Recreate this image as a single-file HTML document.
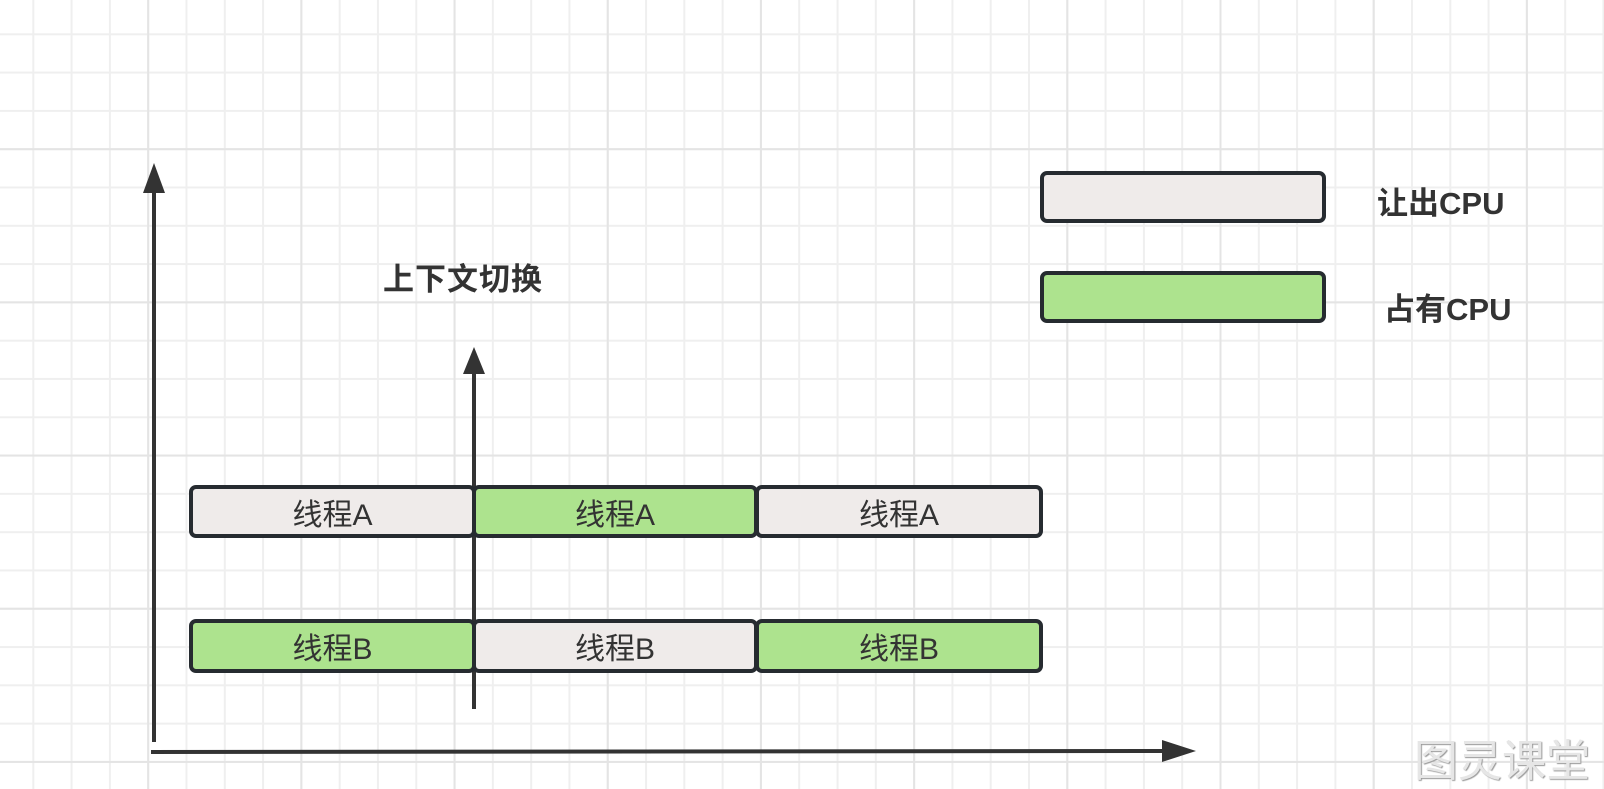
<!DOCTYPE html>
<html><head><meta charset="utf-8"><style>
html,body{margin:0;padding:0;}
body{width:1604px;height:786px;overflow:hidden;position:relative;background-color:#fff;
background-image:
linear-gradient(to right,#e4e4e4 0,#e4e4e4 2px,transparent 2px),
linear-gradient(to bottom,#e4e4e4 0,#e4e4e4 2px,transparent 2px),
linear-gradient(to right,#efefef 0,#efefef 2px,transparent 2px),
linear-gradient(to bottom,#efefef 0,#efefef 2px,transparent 2px);
background-size:153.2px 153.2px,153.2px 153.2px,38.3px 38.3px,38.3px 38.3px;
background-position:-6px -5px,-6px -5px,-6px -5px,-6px -5px;
font-family:"Liberation Sans","Noto Sans CJK SC",sans-serif;}
.b{position:absolute;box-sizing:border-box;border:4px solid #262b30;border-radius:7px;
display:flex;align-items:center;justify-content:center;font-size:30px;color:#333;}
.g{background:#ade38e}.w{background:#efebea}
.t{position:absolute;font-weight:bold;color:#333;white-space:nowrap;}
</style></head><body>
<svg width="1604" height="786" style="position:absolute;left:0;top:0">
<g stroke="#333" stroke-width="4" fill="#333">
<line x1="154" y1="742" x2="154" y2="190"/>
<polygon points="154,163 143,193 165,193" stroke="none"/>
<line x1="151" y1="752" x2="1165" y2="751"/>
<polygon points="1196,751 1162,740 1162,762" stroke="none"/>
<line x1="474" y1="709" x2="474" y2="370"/>
<polygon points="474,347 463,374 485,374" stroke="none"/>
</g>
</svg>
<div class="b w" style="left:189px;top:485px;width:287px;height:53px">线程A</div>
<div class="b g" style="left:472px;top:485px;width:286px;height:53px">线程A</div>
<div class="b w" style="left:755px;top:485px;width:288px;height:53px">线程A</div>
<div class="b g" style="left:189px;top:619px;width:287px;height:54px">线程B</div>
<div class="b w" style="left:472px;top:619px;width:286px;height:54px">线程B</div>
<div class="b g" style="left:755px;top:619px;width:288px;height:54px">线程B</div>
<div class="b w" style="left:1040px;top:171px;width:286px;height:52px"></div>
<div class="b g" style="left:1040px;top:271px;width:286px;height:52px"></div>
<div class="t" style="left:383px;top:254px;font-size:31px;letter-spacing:1px">上下文切换</div>
<div class="t" style="left:1377px;top:178px;font-size:31px">让出CPU</div>
<div class="t" style="left:1384px;top:284px;font-size:31px">占有CPU</div>
<div style="position:absolute;left:1414px;top:725px;font-size:44px;color:#e6e6e6;text-shadow:1px 1px 1px #999;white-space:nowrap;">图灵课堂</div>
</body></html>
